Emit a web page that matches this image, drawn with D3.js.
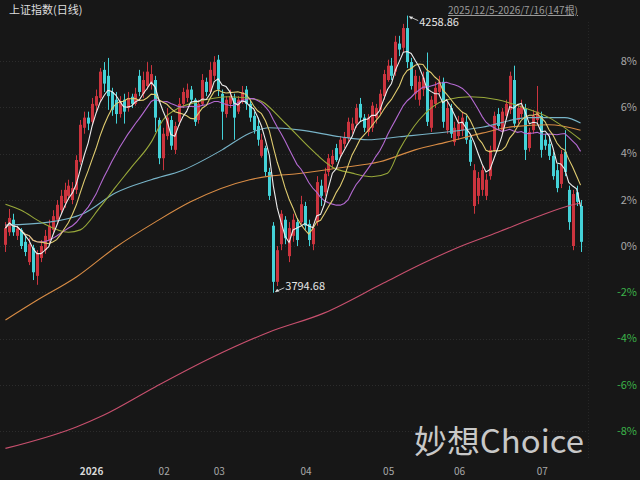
<!DOCTYPE html>
<html>
<head>
<meta charset="utf-8">
<script src="https://cdn.jsdelivr.net/npm/d3@7"></script>
<style>
  html, body { margin: 0; padding: 0; background: #171717; }
  svg { display: block; font-family: "Noto Sans CJK SC", "Noto Sans", sans-serif; }
</style>
</head>
<body>
<svg id="chart" width="640" height="480"></svg>
<script>
// 上证指数 daily, 2025/12/5 - 2026/7/16, 147 bars
const BASE = 3873;

const open = [
  3875,3896,3917,3890,3900,3880,3846,3870,3823,3853,
  3866,3883,3900,3917,3933,3945,3957,3950,3967,4014,
  4071,4088,4081,4108,4121,4168,4158,4131,4118,4094,
  4118,4104,4123,4111,4158,4128,4141,4145,4151,4084,
  4020,4057,4084,4034,4081,4111,4121,4135,4118,4084,
  4111,4148,4131,4158,4185,4128,4094,4111,4121,4098,
  4114,4135,4111,4091,4074,4024,4037,3997,3907,3813,
  3876,3917,3856,3890,3913,3913,3940,3910,3876,3913,
  3974,3963,3997,4010,4037,4027,4044,4054,4067,4078,
  4111,4088,4064,4071,4088,4101,4124,4151,4175,4165,
  4212,4205,4238,4181,4128,4118,4135,4165,4071,4111,
  4131,4148,4067,4104,4047,4057,4067,4081,4051,3940,
  3957,3967,3957,3990,4034,4094,4067,4091,4101,4151,
  4084,4094,4104,4037,4067,4084,4091,4051,4044,4024,
  4000,3977,4031,3967,3873,3963,3940
];
const high = [
  3913,3935,3927,3907,3903,3890,3886,3875,3866,3883,
  3900,3917,3933,3950,3967,3979,3984,3980,4025,4084,
  4098,4098,4121,4135,4171,4181,4188,4138,4131,4124,
  4128,4131,4128,4138,4168,4165,4181,4176,4158,4088,
  4071,4104,4091,4081,4121,4138,4145,4141,4121,4118,
  4161,4155,4181,4191,4193,4135,4124,4135,4128,4124,
  4141,4141,4118,4098,4088,4061,4041,4004,3913,3873,
  3933,3923,3913,3927,3920,3957,3947,3917,3910,3990,
  3984,4004,4027,4034,4044,4057,4064,4088,4088,4111,
  4121,4094,4094,4114,4111,4135,4168,4185,4188,4225,
  4225,4245,4258.86,4188,4168,4158,4165,4197,4124,4148,
  4158,4155,4114,4111,4081,4091,4098,4091,4057,4010,
  3997,4007,3994,4041,4098,4104,4104,4118,4165,4175,
  4111,4118,4111,4071,4101,4141,4098,4061,4057,4031,
  4010,4034,4067,3974,3967,3974,3950
];
const low = [
  3863,3890,3890,3883,3868,3856,3841,3816,3808,3846,
  3860,3878,3895,3912,3927,3937,3950,3943,3960,4009,
  4061,4067,4076,4098,4114,4131,4101,4091,4078,4088,
  4078,4098,4104,4108,4124,4121,4135,4135,4064,4010,
  4000,4051,4034,4027,4074,4104,4114,4111,4074,4078,
  4108,4124,4128,4151,4124,4051,4088,4104,4051,4094,
  4111,4101,4081,4061,4041,4021,3990,3950,3794.68,3806,
  3866,3876,3846,3880,3873,3910,3900,3873,3866,3907,
  3940,3957,3990,4004,4014,4021,4037,4047,4061,4071,
  4081,4064,4057,4064,4078,4094,4118,4148,4151,4158,
  4191,4198,4171,4135,4118,4108,4124,4074,4064,4104,
  4124,4071,4061,4054,4041,4051,4057,4044,4007,3927,
  3943,3957,3950,3984,4031,4067,4061,4084,4094,4071,
  4078,4088,4017,4031,4061,4078,4021,4034,4017,3984,
  3963,3970,3990,3900,3866,3940,3863
];
const close = [
  3903,3920,3896,3902,3873,3863,3876,3829,3860,3873,
  3890,3907,3923,3942,3957,3967,3974,3970,4017,4076,
  4088,4078,4111,4124,4165,4145,4124,4101,4094,4114,
  4098,4121,4111,4128,4131,4151,4165,4161,4088,4020,
  4061,4088,4041,4074,4111,4131,4135,4118,4081,4111,
  4151,4131,4168,4181,4135,4098,4118,4124,4088,4118,
  4131,4111,4088,4067,4051,4051,3997,3957,3813,3866,
  3927,3886,3903,3917,3883,3943,3907,3883,3903,3980,
  3957,3994,4020,4024,4017,4051,4054,4081,4078,4104,
  4088,4071,4088,4108,4104,4128,4161,4175,4158,4215,
  4202,4238,4181,4141,4158,4148,4155,4081,4118,4138,
  4148,4081,4104,4061,4071,4078,4088,4051,4014,4000,
  3987,4000,3984,4034,4091,4074,4098,4111,4158,4078,
  4104,4108,4034,4064,4091,4098,4034,4041,4024,3990,
  3970,4027,3997,3913,3960,3947,3880
];

// longer averages as [bar index, value]
const ma30Points = [[0,3943],[4,3933],[9,3913],[16,3896],[19,3900],[24,3938],[28,3972],[32,4005],[37,4047],[40,4084],[44,4104],[48,4113],[57,4123],[64,4118],[71,4079],[77,4039],[83,4005],[88,3995],[93,3989],[97,3995],[100,4034],[105,4084],[112,4118],[118,4123],[125,4118],[131,4106],[138,4088],[146,4051]];
const ma60Points = [[0,3908],[11,3913],[20,3928],[28,3962],[37,3984],[45,4000],[55,4034],[62,4062],[67,4071],[75,4067],[85,4056],[92,4051],[100,4056],[112,4064],[121,4072],[133,4088],[142,4088],[146,4079]];
const ma120Points = [[0,3749],[8,3782],[18,3821],[28,3871],[38,3913],[47,3947],[62,3984],[67,3990],[74,3994],[85,4004],[95,4014],[104,4034],[112,4047],[121,4062],[129,4073],[138,4076],[146,4067]];
const ma250Points = [[0,3534],[18,3570],[25,3590],[38,3637],[52,3685],[67,3729],[81,3761],[96,3811],[106,3844],[115,3871],[125,3896],[135,3922],[144,3942],[146,3945]];

const pctTicks = [8, 6, 4, 2, 0, -2, -4, -6, -8];
const monthTicks = [
  { index: 19, label: '2026' },
  { index: 39, label: '02' },
  { index: 53, label: '03' },
  { index: 75, label: '04' },
  { index: 96, label: '05' },
  { index: 114, label: '06' },
  { index: 135, label: '07' },
];
const highIndex = 102;
const lowIndex = 68;

const svg = d3.select('#chart');
const plotRight = 588;

const x = d3.scaleBand().domain(d3.range(close.length)).range([3, 583]).padding(0.25);
const cx = (i) => x(i) + x.bandwidth() / 2;
const y = d3.scaleLinear().domain([-8, 8]).range([431, 61]);
const toPct = (p) => (p / BASE - 1) * 100;
const py = (p) => y(toPct(p));

// grid
svg.append('g')
  .selectAll('line')
  .data(pctTicks)
  .join('line')
  .attr('x1', 0)
  .attr('x2', plotRight)
  .attr('y1', (d) => Math.round(y(d)) + 0.5)
  .attr('y2', (d) => Math.round(y(d)) + 0.5)
  .attr('stroke', '#2c2c2c')
  .attr('stroke-dasharray', '1,2');

svg.append('line')
  .attr('x1', plotRight + 0.5).attr('x2', plotRight + 0.5)
  .attr('y1', 22).attr('y2', 460)
  .attr('stroke', '#262626')
  .attr('stroke-dasharray', '1,2');

// y axis labels
svg.append('g')
  .selectAll('text')
  .data(pctTicks)
  .join('text')
  .attr('x', 637)
  .attr('y', (d) => y(d))
  .attr('dy', '0.35em')
  .attr('text-anchor', 'end')
  .attr('font-size', 11)
  .attr('fill', (d) => (d < 0 ? '#3cb44a' : '#a8a8a8'))
  .text((d) => `${d}%`);

// month labels
svg.append('g')
  .selectAll('text')
  .data(monthTicks)
  .join('text')
  .attr('x', (d) => x(d.index) + 1)
  .attr('y', 475)
  .attr('font-size', 10)
  .attr('font-weight', (d) => (d.label.length > 2 ? 'bold' : 'normal'))
  .attr('fill', (d) => (d.label.length > 2 ? '#d8d8d8' : '#a8a8a8'))
  .text((d) => d.label);

// candles
const upColor = '#cc343e';
const downColor = '#44d2d8';
const candles = svg.append('g')
  .selectAll('g')
  .data(close.map((c, i) => ({ i, o: open[i], h: high[i], l: low[i], c })))
  .join('g')
  .attr('fill', (d) => (d.c >= d.o ? upColor : downColor))
  .attr('stroke', (d) => (d.c >= d.o ? upColor : downColor));

candles.append('line')
  .attr('x1', (d) => Math.round(cx(d.i)) + 0.5)
  .attr('x2', (d) => Math.round(cx(d.i)) + 0.5)
  .attr('y1', (d) => py(d.h))
  .attr('y2', (d) => py(d.l))
  .attr('stroke-width', 1);

candles.append('rect')
  .attr('x', (d) => Math.round(cx(d.i)) + 0.5 - 1.5)
  .attr('width', 3)
  .attr('y', (d) => py(Math.max(d.o, d.c)))
  .attr('height', (d) => Math.max(1, Math.abs(py(d.o) - py(d.c))))
  .attr('stroke', 'none');

// moving averages
function movingAverage(values, n) {
  return values.map((_, i) => d3.mean(values.slice(Math.max(0, i - n + 1), i + 1)));
}

const lineComputed = d3.line().x((d, i) => cx(i)).y((d) => py(d));
const lineRead = d3.line().curve(d3.curveMonotoneX).x((d) => cx(d[0])).y((d) => py(d[1]));

const maLayer = svg.append('g').attr('fill', 'none').attr('stroke-width', 1.1);

maLayer.append('path').attr('d', lineRead(ma250Points)).attr('stroke', '#c8506e');
maLayer.append('path').attr('d', lineRead(ma120Points)).attr('stroke', '#d88c45');
maLayer.append('path').attr('d', lineRead(ma60Points)).attr('stroke', '#78b4c8');
maLayer.append('path').attr('d', lineRead(ma30Points)).attr('stroke', '#98a83a');
maLayer.append('path').attr('d', lineComputed(movingAverage(close, 20))).attr('stroke', '#b46ad2');
maLayer.append('path').attr('d', lineComputed(movingAverage(close, 10))).attr('stroke', '#e0cc70');
maLayer.append('path').attr('d', lineComputed(movingAverage(close, 5))).attr('stroke', '#ececec');

// extreme markers
function marker(index, value, up) {
  const x0 = cx(index) + 2;
  const y0 = py(value);
  const dir = up ? 1 : -1;
  const g = svg.append('g').attr('stroke', '#e6e6e6').attr('fill', '#e6e6e6');
  g.append('line')
    .attr('x1', x0).attr('y1', y0 + dir * 1)
    .attr('x2', x0 + 9).attr('y2', y0 + dir * 5)
    .attr('stroke-width', 0.8);
  g.append('path')
    .attr('d', `M${x0},${y0 + dir}l4,${dir * 0.2}l-2.2,${dir * 2.8}z`)
    .attr('stroke', 'none');
  g.append('text')
    .attr('x', x0 + 10)
    .attr('y', y0 + dir * 7)
    .attr('dy', '0.35em')
    .attr('font-size', 11)
    .attr('stroke', 'none')
    .text(value.toFixed(2));
}
marker(highIndex, high[highIndex], true);
marker(lowIndex, low[lowIndex], false);

// header
svg.append('text')
  .attr('x', 9).attr('y', 14)
  .attr('font-size', 11)
  .attr('fill', '#dedede')
  .text('上证指数(日线)');

svg.append('text')
  .attr('x', 448).attr('y', 14)
  .attr('font-size', 10)
  .attr('fill', '#9a9a9a')
  .attr('text-decoration', 'underline')
  .attr('textLength', 130)
  .attr('lengthAdjust', 'spacingAndGlyphs')
  .text('2025/12/5-2026/7/16(147根)');

// watermark
svg.append('text')
  .attr('x', 414).attr('y', 453)
  .attr('font-size', 32)
  .attr('fill', '#c8c8c8')
  .attr('textLength', 170)
  .attr('lengthAdjust', 'spacingAndGlyphs')
  .text('妙想Choice');
</script>
</body>
</html>
